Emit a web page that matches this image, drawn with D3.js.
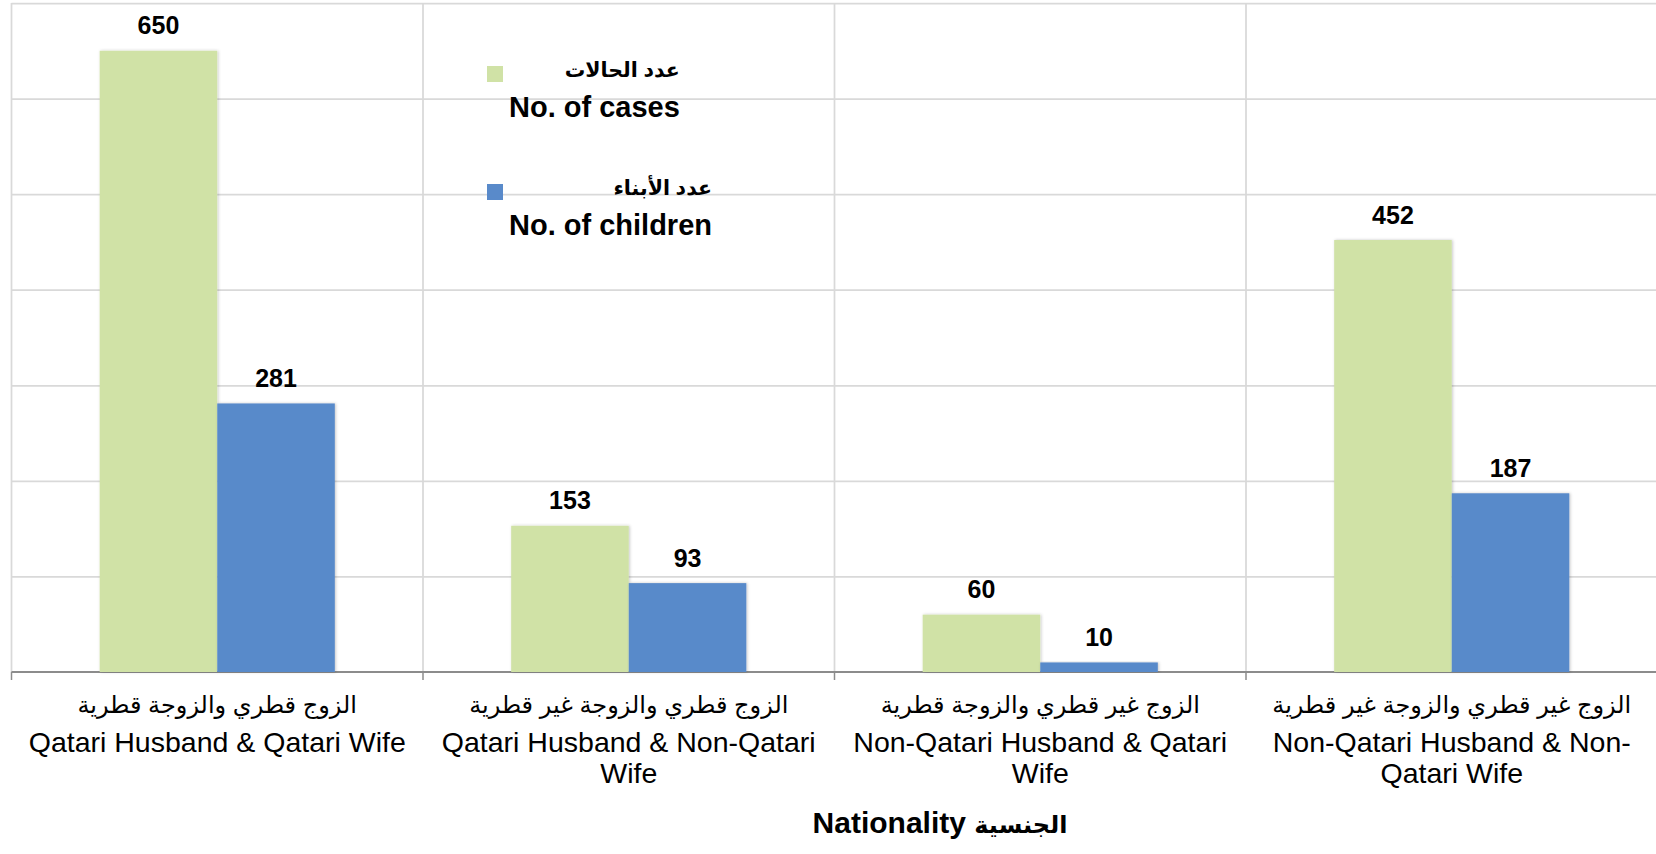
<!DOCTYPE html>
<html>
<head>
<meta charset="utf-8">
<script src="https://cdn.jsdelivr.net/npm/d3@7"></script>
<style>
    body { margin: 0; background: #fff; overflow: hidden; }
    text { font-family: "Liberation Sans", Arial, "DejaVu Sans", sans-serif; fill: #000; }
</style>
</head>
<body>
<div id="chart"></div>
<script>
const categoriesAr = [
    "الزوج قطري والزوجة قطرية",
    "الزوج قطري والزوجة غير قطرية",
    "الزوج غير قطري والزوجة قطرية",
    "الزوج غير قطري والزوجة غير قطرية"
];
const categoriesEn = [
    ["Qatari Husband & Qatari Wife"],
    ["Qatari Husband & Non-Qatari", "Wife"],
    ["Non-Qatari Husband & Qatari", "Wife"],
    ["Non-Qatari Husband & Non-", "Qatari Wife"]
];
const casesValues = [650, 153, 60, 452];
const childrenValues = [281, 93, 10, 187];
const seriesNamesAr = ["عدد الحالات", "عدد الأبناء"];
const seriesNamesEn = ["No. of cases", "No. of children"];
const yTicks = [0, 100, 200, 300, 400, 500, 600, 700];
const axisTitleEn = "Nationality";
const axisTitleAr = "الجنسية";

const WIDTH = 1656, HEIGHT = 854;
const COLORS = ["#D0E2A6", "#598ACA"];

class BarChart {
    constructor(selector) {
        this.svg = d3.select(selector).append("svg")
            .attr("width", WIDTH)
            .attr("height", HEIGHT);
        this.left = 11.5;
        this.right = 1657.5;
        this.top = 3;
        this.bottom = 672;
    }

    scales() {
        this.x0 = d3.scaleBand()
            .domain(d3.range(categoriesEn.length))
            .range([this.left, this.right])
            .padding(0);
        this.x1 = d3.scaleBand()
            .domain([0, 1])
            .range([0, this.x0.bandwidth()])
            .paddingInner(0)
            .paddingOuter(0.75);
        this.y = d3.scaleLinear()
            .domain([0, 700])
            .range([this.bottom, this.top]);
    }

    drawGrid() {
        const grid = this.svg.append("g")
            .attr("transform", `translate(${this.left},0)`)
            .call(d3.axisLeft(this.y)
                .tickValues(yTicks.slice(1))
                .tickSize(-(this.right - this.left))
                .tickFormat(""));
        grid.select(".domain").remove();
        grid.selectAll("line").attr("stroke", "#D9D9D9").attr("stroke-width", 1.75);

        const bounds = this.x0.domain().map(i => this.x0(i)).concat([this.right]);
        this.svg.append("g").selectAll("line")
            .data(bounds)
            .enter()
            .append("line")
            .attr("x1", d => d).attr("x2", d => d)
            .attr("y1", this.top).attr("y2", this.bottom)
            .attr("stroke", "#D9D9D9")
            .attr("stroke-width", 1.75);

        // category axis, ticks sit between categories
        this.svg.append("line")
            .attr("x1", this.left).attr("x2", this.right)
            .attr("y1", this.bottom).attr("y2", this.bottom)
            .attr("stroke", "#8C8C8C")
            .attr("stroke-width", 2);
        this.svg.append("g").selectAll("line")
            .data(bounds)
            .enter()
            .append("line")
            .attr("x1", d => d).attr("x2", d => d)
            .attr("y1", this.bottom).attr("y2", this.bottom + 8)
            .attr("stroke", "#8C8C8C")
            .attr("stroke-width", 1.5);
    }

    drawBars() {
        const defs = this.svg.append("defs");
        defs.append("filter")
            .attr("id", "shadow")
            .attr("x", "-10%").attr("y", "-10%")
            .attr("width", "120%").attr("height", "120%")
            .append("feDropShadow")
            .attr("dx", 1).attr("dy", 0)
            .attr("stdDeviation", 1.5)
            .attr("flood-color", "#000")
            .attr("flood-opacity", 0.22);

        const rows = categoriesEn.map((_, i) => [casesValues[i], childrenValues[i]]);
        const groups = this.svg.append("g").selectAll("g")
            .data(rows)
            .enter()
            .append("g")
            .attr("transform", (d, i) => `translate(${this.x0(i)},0)`);

        groups.selectAll("rect")
            .data(d => d)
            .enter()
            .append("rect")
            .attr("x", (d, j) => this.x1(j))
            .attr("y", d => this.y(d))
            .attr("width", this.x1.bandwidth())
            .attr("height", d => this.bottom - this.y(d))
            .attr("fill", (d, j) => COLORS[j])
            .attr("filter", "url(#shadow)");

        groups.selectAll("text")
            .data(d => d)
            .enter()
            .append("text")
            .attr("x", (d, j) => this.x1(j) + this.x1.bandwidth() / 2)
            .attr("y", d => this.y(d) - 16.5)
            .attr("text-anchor", "middle")
            .attr("font-size", 25)
            .attr("font-weight", "bold")
            .text(d => d);
    }

    drawLabels() {
        const labels = this.svg.append("g").selectAll("g")
            .data(categoriesEn)
            .enter()
            .append("g")
            .attr("transform", (d, i) => `translate(${this.x0(i) + this.x0.bandwidth() / 2},0)`);

        labels.append("text")
            .attr("y", 713)
            .attr("text-anchor", "middle")
            .attr("font-size", 24)
            .text((d, i) => categoriesAr[i]);

        labels.selectAll("text.en")
            .data(d => d)
            .enter()
            .append("text")
            .attr("class", "en")
            .attr("y", (d, k) => 752 + k * 30.5)
            .attr("text-anchor", "middle")
            .attr("font-size", 28.5)
            .text(d => d);

        const title = this.svg.append("text")
            .attr("x", 940)
            .attr("y", 833)
            .attr("text-anchor", "middle")
            .attr("font-weight", "bold");
        title.append("tspan").attr("font-size", 30).text(axisTitleEn + " ");
        title.append("tspan").attr("font-size", 24).text(axisTitleAr);
    }

    drawLegend() {
        const rowsY = [66, 184];
        const items = this.svg.append("g").selectAll("g")
            .data(seriesNamesEn)
            .enter()
            .append("g");

        items.append("rect")
            .attr("x", 487)
            .attr("y", (d, i) => rowsY[i])
            .attr("width", 16)
            .attr("height", 16)
            .attr("fill", (d, i) => COLORS[i]);

        items.each(function(d, i) {
            const g = d3.select(this);
            const en = g.append("text")
                .attr("x", 509)
                .attr("y", rowsY[i] + 51)
                .attr("font-size", 29)
                .attr("font-weight", "bold")
                .text(d);
            const w = en.node().getComputedTextLength();
            g.append("text")
                .attr("x", 509 + w)
                .attr("y", rowsY[i] + 11)
                .attr("text-anchor", "end")
                .attr("font-size", 20.5)
                .attr("font-weight", "bold")
                .text(seriesNamesAr[i]);
        });
    }

    draw() {
        this.scales();
        this.drawGrid();
        this.drawBars();
        this.drawLabels();
        this.drawLegend();
    }
}

new BarChart("#chart").draw();
</script>
</body>
</html>
